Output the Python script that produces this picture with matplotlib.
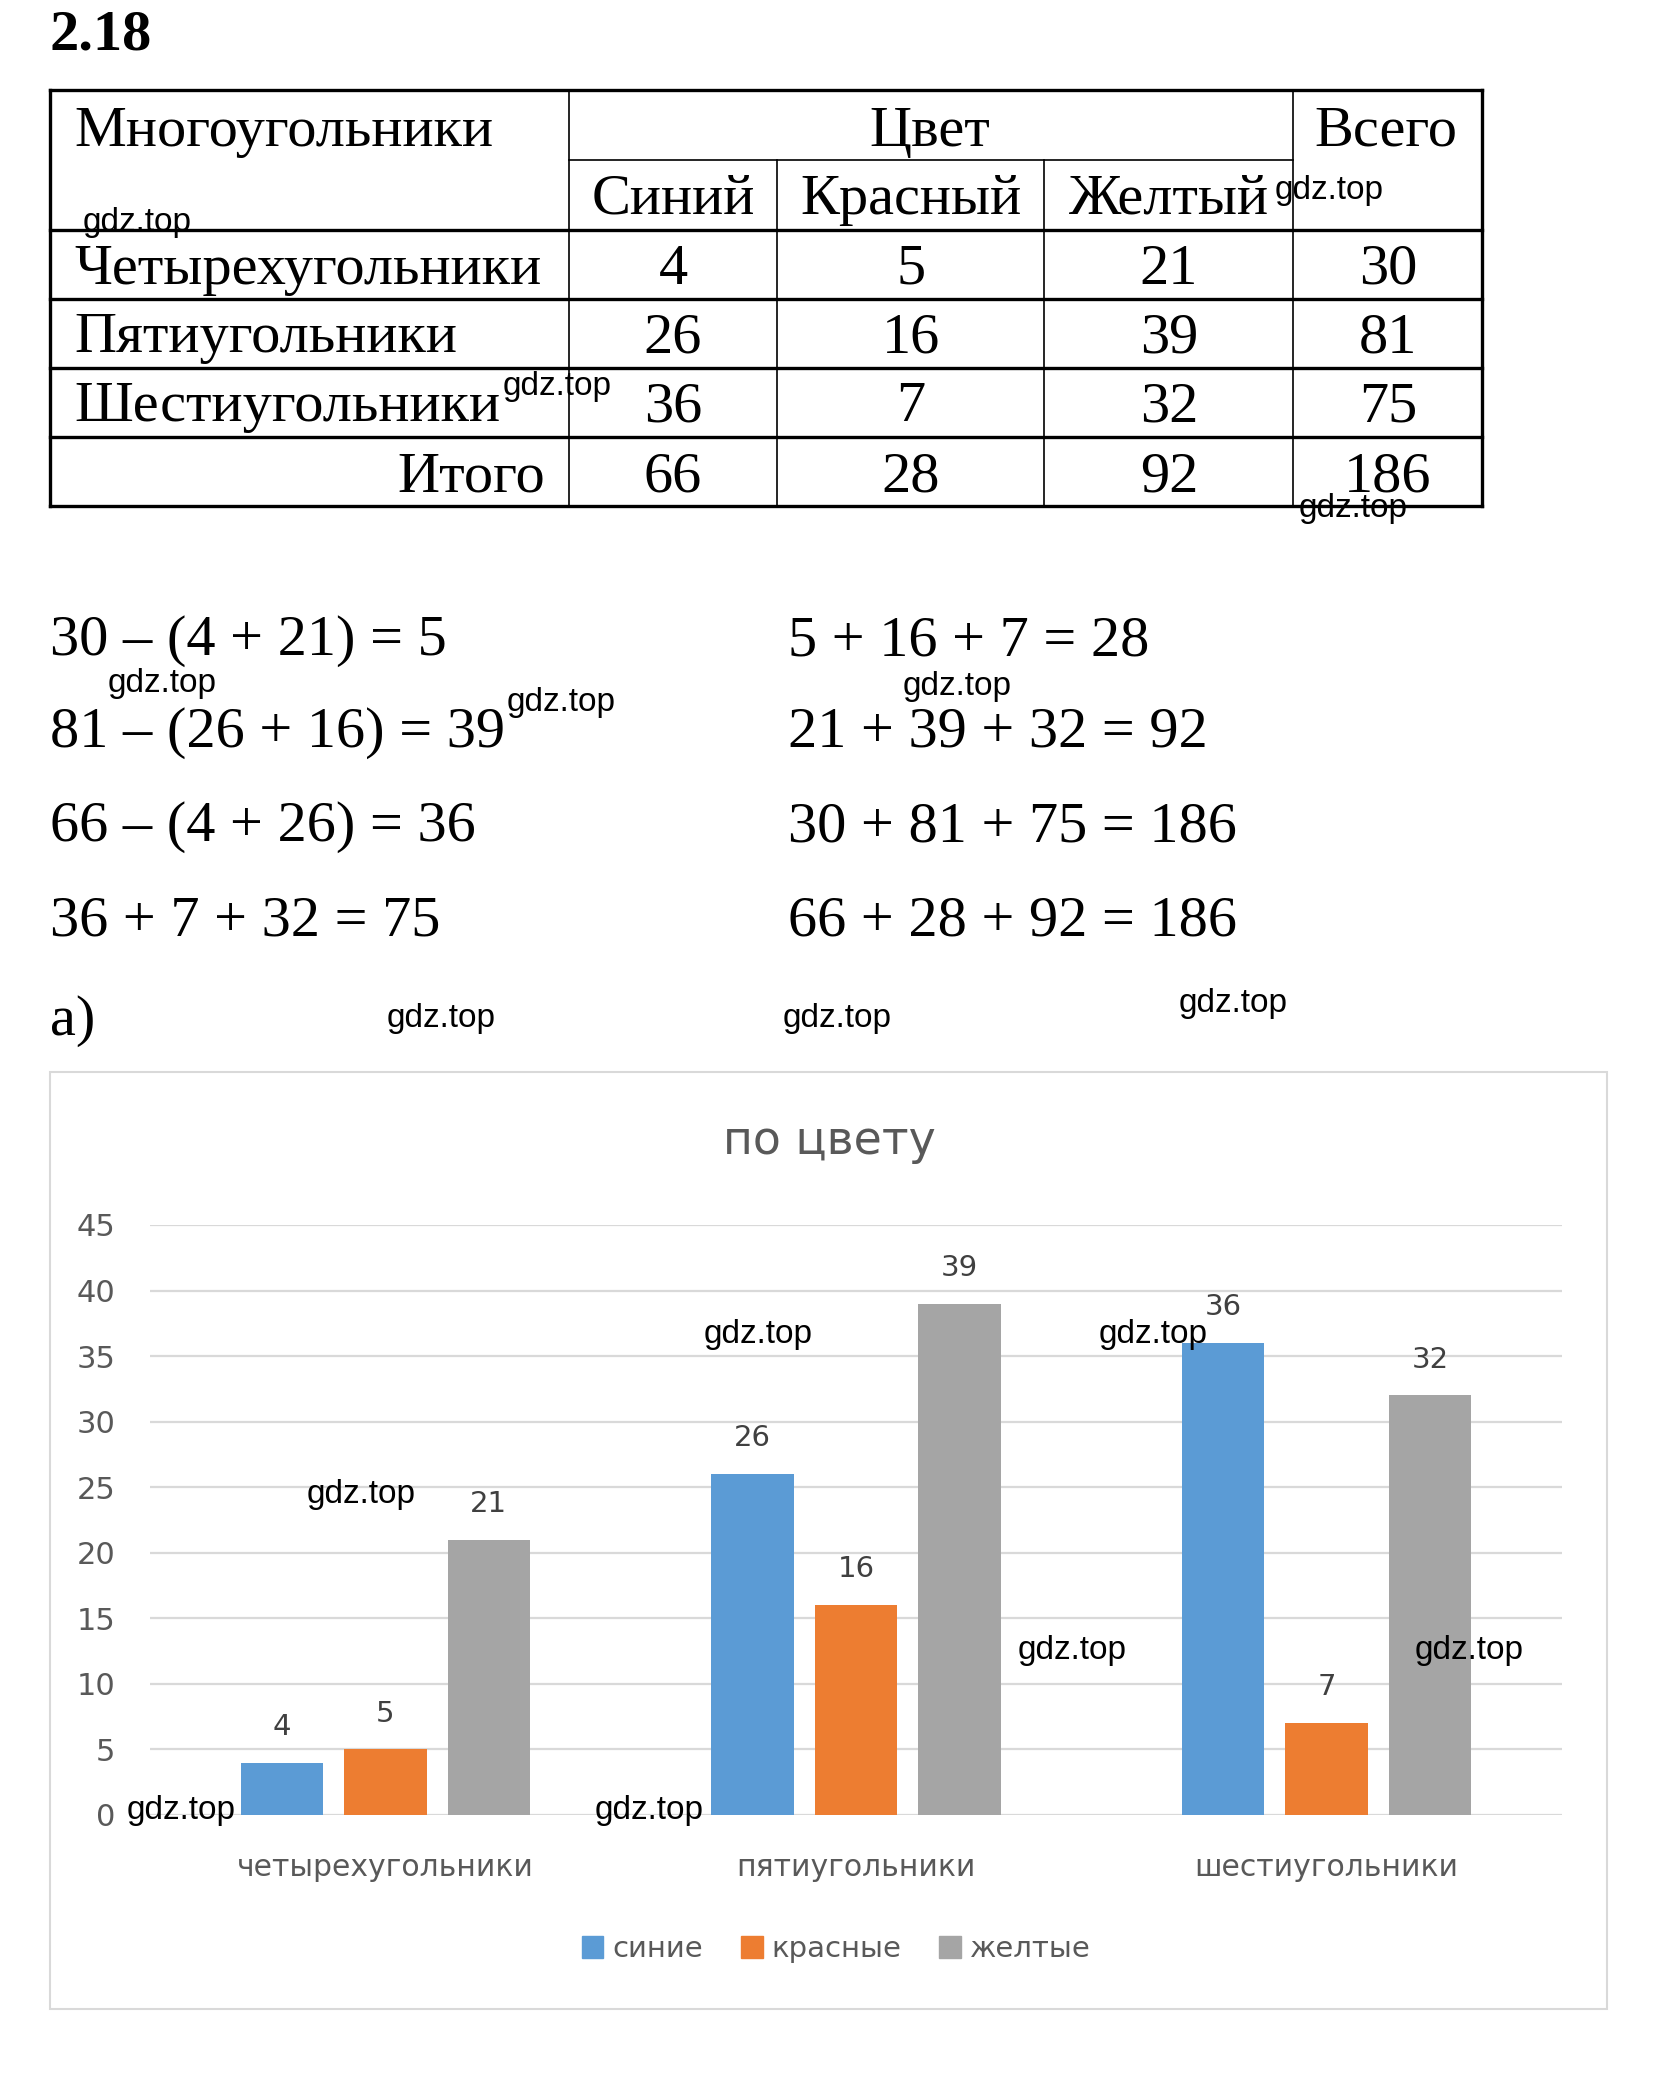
import matplotlib
matplotlib.use("Agg")
import matplotlib.pyplot as plt
import numpy as np
from matplotlib.lines import Line2D
from matplotlib.patches import Rectangle, Patch

W, H = 1673, 2081
DPI = 100

# ---- data ----
ROW_NAMES = ["Четырехугольники", "Пятиугольники", "Шестиугольники"]
COL_NAMES = ["Синий", "Красный", "Желтый"]
TABLE_VALUES = [[4, 5, 21, 30],
                [26, 16, 39, 81],
                [36, 7, 32, 75]]
TOTALS = [66, 28, 92, 186]

EQ_LEFT = ["30 – (4 + 21) = 5", "81 – (26 + 16) = 39",
           "66 – (4 + 26) = 36", "36 + 7 + 32 = 75"]
EQ_RIGHT = ["5 + 16 + 7 = 28", "21 + 39 + 32 = 92",
            "30 + 81 + 75 = 186", "66 + 28 + 92 = 186"]

CATEGORIES = ["четырехугольники", "пятиугольники", "шестиугольники"]
SERIES = ["синие", "красные", "желтые"]
BLUE = [4, 26, 36]
RED = [5, 16, 7]
YELLOW = [21, 39, 32]
COLORS = ["#5B9BD5", "#ED7D31", "#A5A5A5"]
YTICKS = [0, 5, 10, 15, 20, 25, 30, 35, 40, 45]

# watermark centres, pixel coords of the page
WATERMARKS = [(137, 223), (1329, 191), (557, 387), (1353, 508),
              (162, 683), (561, 703), (957, 686),
              (441, 1019), (837, 1019), (1233, 1003),
              (361, 1495), (758, 1335), (1153, 1335),
              (1072, 1650), (1469, 1650), (181, 1811), (649, 1811)]

SERIF = "Liberation Serif"
SANS = "DejaVu Sans"
TFS = 42  # table / equation font size
GREY_TXT = "#595959"
SMALL = 21


def fx(x):
    return x / W


def fy(y):
    return 1 - y / H


fig = plt.figure(figsize=(W / DPI, H / DPI), dpi=DPI)


def text(x, y, s, **kw):
    kw.setdefault("family", SERIF)
    kw.setdefault("fontsize", TFS)
    kw.setdefault("va", "baseline")
    fig.text(fx(x), fy(y), s, **kw)


def hline(y, x0, x1, lw):
    fig.add_artist(Line2D([fx(x0), fx(x1)], [fy(y), fy(y)], lw=lw, color="black",
                          transform=fig.transFigure, solid_capstyle="projecting"))


def vline(x, y0, y1, lw):
    fig.add_artist(Line2D([fx(x), fx(x)], [fy(y0), fy(y1)], lw=lw, color="black",
                          transform=fig.transFigure, solid_capstyle="projecting"))


# ---- header ----
text(50, 50, "2.18", fontsize=42, weight="bold")

# ---- table ----
T_LEFT, T_RIGHT = 50, 1482
COLS = [569, 777, 1044, 1293]
ROWS = [90, 229.5, 298.5, 367.5, 436.5, 505.5]
for y in ROWS:
    hline(y, T_LEFT, T_RIGHT, 2.4)
hline(160, COLS[0], COLS[3], 1.2)
vline(T_LEFT, ROWS[0], ROWS[-1], 2.4)
vline(T_RIGHT, ROWS[0], ROWS[-1], 2.4)
vline(COLS[0], ROWS[0], ROWS[-1], 1.2)
vline(COLS[3], ROWS[0], ROWS[-1], 1.2)
vline(COLS[1], 160, ROWS[-1], 1.2)
vline(COLS[2], 160, ROWS[-1], 1.2)

col_centers = [673, 911, 1169, 1388]
text(74, 146, "Многоугольники")
text(930, 146, "Цвет", ha="center")
text(1386, 146, "Всего", ha="center")
for cx, name in zip(col_centers[:3], COL_NAMES):
    text(cx, 214, name, ha="center")

row_base = [284, 352, 421, 491]
for rb, name, vals in zip(row_base[:3], ROW_NAMES, TABLE_VALUES):
    text(74, rb, name)
    for cx, v in zip(col_centers, vals):
        text(cx, rb, str(v), ha="center")
text(545, row_base[3], "Итого", ha="right")
for cx, v in zip(col_centers, TOTALS):
    text(cx, row_base[3], str(v), ha="center")

# ---- equations ----
eq_base = [655, 747, 841, 935]
for yb, l, r in zip(eq_base, EQ_LEFT, EQ_RIGHT):
    text(50, yb, l)
    text(788, yb, r)
text(50, 1035, "а)")

# ---- chart frame ----
fig.add_artist(Rectangle((fx(50), fy(2009)), fx(1607) - fx(50), fy(1072) - fy(2009),
                         transform=fig.transFigure, fill=False,
                         edgecolor="#d9d9d9", lw=1.5))
fig.text(fx(829), fy(1141), "по цвету", family=SANS, fontsize=33,
         color=GREY_TXT, ha="center", va="center")

ax = fig.add_axes([fx(150), fy(1815), fx(1562) - fx(150), fy(1225) - fy(1815)])
x = np.arange(len(CATEGORIES))
width, step = 0.175, 0.22
for i, (vals, name, col) in enumerate(zip([BLUE, RED, YELLOW], SERIES, COLORS)):
    bars = ax.bar(x + (i - 1) * step, vals, width, color=col, label=name, zorder=2)
    for b, v in zip(bars, vals):
        ax.annotate(str(v), (b.get_x() + b.get_width() / 2, v),
                    xytext=(0, 20), textcoords="offset points",
                    ha="center", va="baseline", fontsize=SMALL,
                    family=SANS, color="#404040")

ax.set_xlim(-0.5, 2.5)
ax.set_ylim(0, 45)
ax.set_yticks(YTICKS)
ax.set_xticks(x, CATEGORIES)
ax.tick_params(axis="y", length=0, pad=25, labelsize=22, labelcolor=GREY_TXT)
ax.tick_params(axis="x", length=0, pad=27, labelsize=21.5, labelcolor=GREY_TXT)
for lab in ax.get_xticklabels() + ax.get_yticklabels():
    lab.set_family(SANS)
ax.yaxis.grid(True, color="#d9d9d9", lw=1.6)
ax.set_axisbelow(True)
for s in ax.spines.values():
    s.set_visible(False)
ax.patch.set_visible(False)

handles = [Patch(color=c, label=n) for c, n in zip(COLORS, SERIES)]
leg = fig.legend(handles=handles, loc="center", bbox_to_anchor=(fx(836), fy(1949)),
                 ncol=3, frameon=False, handlelength=0.75, handleheight=0.75,
                 handletextpad=0.3, columnspacing=1.3,
                 prop={"family": SANS, "size": SMALL})
for t in leg.get_texts():
    t.set_color(GREY_TXT)

# ---- watermarks ----
for wx, wy in WATERMARKS:
    fig.text(fx(wx), fy(wy), "gdz.top", family="Liberation Sans", fontsize=24,
             color="black", ha="center", va="center", zorder=10)

fig.savefig("out.png", dpi=DPI)
